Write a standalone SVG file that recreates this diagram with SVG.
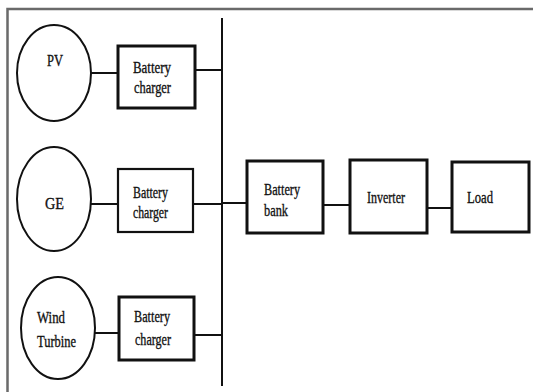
<svg xmlns="http://www.w3.org/2000/svg" width="533" height="392" viewBox="0 0 533 392">
<style>
.t{font-family:"Liberation Serif","Times New Roman",serif;font-size:17px;fill:#111;stroke:#111;stroke-width:0.35}
.e{fill:#fff;stroke:#111;stroke-width:2}
.b{fill:#fff;stroke:#111;stroke-width:3}
.bt{fill:#fff;stroke:#111;stroke-width:2.2}
.c{fill:none;stroke:#111;stroke-width:2}
</style>
<rect width="533" height="392" fill="#fff"/>
<g id="frame" fill="none" stroke="#6a6a6a" stroke-width="2.5">
<path d="M7.5,392 V9 H533"/>
</g>
<g id="connectors">
<path class="c" d="M222,18 V386"/>
<path class="c" d="M91,73 H117"/>
<path class="c" d="M196,70 H222"/>
<path class="c" d="M91,204 H117"/>
<path class="c" d="M193,204 H222"/>
<path class="c" d="M95,333 H118"/>
<path class="c" d="M194,335 H222"/>
<path class="c" d="M222,203 H246"/>
<path class="c" d="M323,205 H349"/>
<path class="c" d="M427,208 H451"/>
</g>
<g id="pv">
<ellipse class="e" cx="54" cy="73" rx="37" ry="48"/>
<text class="t" x="47" y="66" textLength="16" lengthAdjust="spacingAndGlyphs">PV</text>
</g>
<g id="ge">
<ellipse class="e" cx="54" cy="199" rx="37" ry="52"/>
<text class="t" x="45" y="209" textLength="19" lengthAdjust="spacingAndGlyphs">GE</text>
</g>
<g id="wind">
<ellipse class="e" cx="58" cy="328" rx="37" ry="51"/>
<text class="t" x="37" y="323" textLength="28" lengthAdjust="spacingAndGlyphs">Wind</text>
<text class="t" x="37" y="347" textLength="39" lengthAdjust="spacingAndGlyphs">Turbine</text>
</g>
<g id="charger1">
<rect class="b" x="118" y="46" width="77" height="62"/>
<text class="t" x="133" y="73" textLength="38" lengthAdjust="spacingAndGlyphs">Battery</text>
<text class="t" x="134" y="93" textLength="37" lengthAdjust="spacingAndGlyphs">charger</text>
</g>
<g id="charger2">
<rect class="bt" x="118" y="169" width="75" height="63"/>
<text class="t" x="133" y="198" textLength="35" lengthAdjust="spacingAndGlyphs">Battery</text>
<text class="t" x="133" y="218" textLength="35" lengthAdjust="spacingAndGlyphs">charger</text>
</g>
<g id="charger3">
<rect class="b" x="119" y="297" width="75" height="63"/>
<text class="t" x="134" y="322" textLength="36" lengthAdjust="spacingAndGlyphs">Battery</text>
<text class="t" x="135" y="345" textLength="36" lengthAdjust="spacingAndGlyphs">charger</text>
</g>
<g id="battery-bank">
<rect class="b" x="247" y="161" width="76" height="72"/>
<text class="t" x="264" y="195" textLength="36" lengthAdjust="spacingAndGlyphs">Battery</text>
<text class="t" x="264" y="216" textLength="24" lengthAdjust="spacingAndGlyphs">bank</text>
</g>
<g id="inverter">
<rect class="b" x="350" y="160" width="77" height="73"/>
<text class="t" x="367" y="203" textLength="38" lengthAdjust="spacingAndGlyphs">Inverter</text>
</g>
<g id="load">
<rect class="b" x="452" y="162" width="77" height="70"/>
<text class="t" x="467" y="203" textLength="26" lengthAdjust="spacingAndGlyphs">Load</text>
</g>
</svg>
